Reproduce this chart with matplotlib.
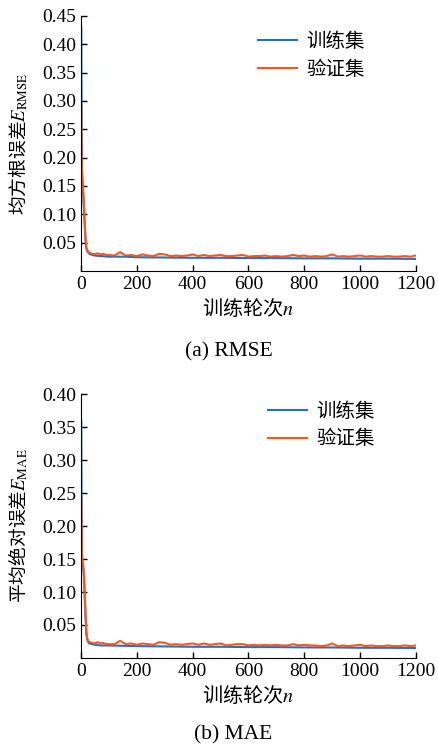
import numpy as np
import matplotlib
matplotlib.use('Agg')
import matplotlib.pyplot as plt

plt.rcParams['font.family'] = ['Liberation Serif', 'Noto Sans CJK SC']
plt.rcParams['mathtext.fontset'] = 'stix'

# early epochs (steep drop)
early_ep = [1, 2, 3, 5, 8, 10, 13, 16, 19, 22, 26, 30, 40, 50, 60, 70, 80, 90, 100]
# later epochs, every 20
late_ep = list(range(120, 1201, 20))

# RMSE
rmse_val_early = [0.295, 0.20, 0.175, 0.165, 0.14, 0.12, 0.09, 0.06, 0.042, 0.037,
                  0.034, 0.032, 0.030, 0.0295, 0.031, 0.029, 0.030, 0.028, 0.028]
rmse_val_late = [0.027, 0.033, 0.027, 0.028, 0.026, 0.029, 0.027, 0.026, 0.030, 0.029,
                 0.026, 0.027, 0.026, 0.027, 0.029, 0.026, 0.028, 0.026, 0.027, 0.028,
                 0.026, 0.026, 0.027, 0.028, 0.025, 0.026, 0.026, 0.027, 0.025, 0.026,
                 0.025, 0.026, 0.028, 0.026, 0.027, 0.025, 0.026, 0.025, 0.026, 0.029,
                 0.025, 0.026, 0.025, 0.026, 0.027, 0.025, 0.026, 0.025, 0.025, 0.026,
                 0.025, 0.025, 0.026, 0.025, 0.027]
rmse_train_ep = [1, 2, 3, 5, 8, 10, 13, 16, 19, 22, 26, 30, 40, 50, 70, 100, 150, 200,
                 300, 400, 500, 600, 700, 800, 900, 1000, 1100, 1200]
rmse_train = [0.43, 0.30, 0.18, 0.16, 0.135, 0.115, 0.085, 0.055, 0.040, 0.035, 0.032,
              0.030, 0.028, 0.027, 0.026, 0.025, 0.025, 0.024, 0.0235, 0.023, 0.023,
              0.0225, 0.0225, 0.022, 0.022, 0.0215, 0.0215, 0.021]

# MAE
mae_val_early = [0.24, 0.19, 0.155, 0.148, 0.14, 0.13, 0.10, 0.07, 0.04, 0.030,
                 0.026, 0.024, 0.023, 0.022, 0.024, 0.022, 0.023, 0.021, 0.021]
mae_val_late = [0.021, 0.026, 0.021, 0.022, 0.020, 0.022, 0.021, 0.020, 0.024, 0.023,
                0.020, 0.021, 0.020, 0.021, 0.022, 0.020, 0.022, 0.020, 0.021, 0.022,
                0.019, 0.020, 0.021, 0.021, 0.019, 0.020, 0.019, 0.020, 0.019, 0.020,
                0.019, 0.019, 0.021, 0.019, 0.020, 0.019, 0.019, 0.018, 0.019, 0.022,
                0.018, 0.019, 0.018, 0.019, 0.020, 0.018, 0.019, 0.018, 0.018, 0.019,
                0.018, 0.018, 0.019, 0.018, 0.019]
mae_train_ep = rmse_train_ep
mae_train = [0.36, 0.24, 0.16, 0.148, 0.138, 0.128, 0.098, 0.068, 0.038, 0.028, 0.024,
             0.022, 0.021, 0.020, 0.019, 0.019, 0.0185, 0.018, 0.0175, 0.017, 0.017,
             0.0165, 0.0165, 0.016, 0.016, 0.0155, 0.0155, 0.015]

blue = '#2472b8'
orange = '#f5581f'
cjk = ['Noto Sans CJK SC', 'DejaVu Sans']

fig = plt.figure(figsize=(4.39, 7.44), dpi=100)
ax1 = fig.add_axes([0.1845, 0.636, 0.763, 0.3425])
ax2 = fig.add_axes([0.1845, 0.1156, 0.763, 0.3548])

panels = [
    (ax1, rmse_train_ep, rmse_train, rmse_val_early + rmse_val_late, 0.45,
     '均方根误差$E_{\\rm RMSE}$', (0.528, 0.94)),
    (ax2, mae_train_ep, mae_train, mae_val_early + mae_val_late, 0.40,
     '平均绝对误差$E_{\\rm MAE}$', (0.558, 0.975)),
]

for ax, tx, ty, vy, ymax, ylab, lpos in panels:
    ax.plot(tx, ty, color=blue, lw=1.5, label='训练集')
    ax.plot(early_ep + late_ep, vy, color=orange, lw=1.5, label='验证集')
    ax.set_xlim(0, 1200)
    ax.set_ylim(0, ymax)
    ax.set_xticks(range(0, 1201, 200))
    ax.set_yticks(np.arange(0.05, ymax + 0.001, 0.05))
    ax.yaxis.set_major_formatter(matplotlib.ticker.FormatStrFormatter('%.2f'))
    ax.spines['top'].set_visible(False)
    ax.spines['right'].set_visible(False)
    ax.tick_params(direction='in', length=4, labelsize=14, width=1)
    ax.set_ylabel(ylab, family=cjk, fontsize=13.5)
    ax.yaxis.set_label_coords(-0.15, 0.5)
    ax.set_xlabel('训练轮次$n$', family=cjk, fontsize=14.5, labelpad=3)
    ax.legend(loc='upper left', bbox_to_anchor=lpos, frameon=False,
              prop={'family': cjk, 'size': 14}, borderpad=0, borderaxespad=0,
              handlelength=2.0, handletextpad=0.5, labelspacing=0.35)

fig.text(0.522, 0.527, '(a) RMSE', ha='center', va='center', fontsize=15.5)
fig.text(0.531, 0.012, '(b) MAE', ha='center', va='center', fontsize=15.5)

fig.savefig('out.png', dpi=100)
